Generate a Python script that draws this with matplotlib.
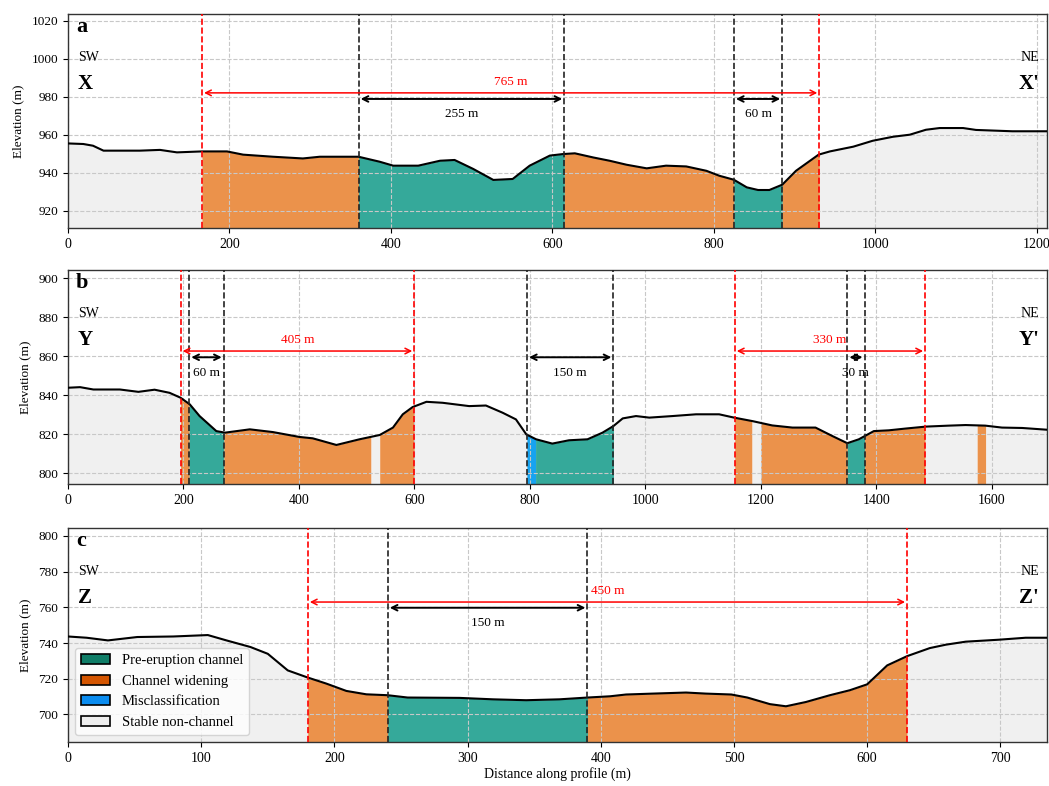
import numpy as np
import matplotlib
matplotlib.use("Agg")
import matplotlib.pyplot as plt
from matplotlib.patches import Patch
from matplotlib.ticker import MultipleLocator

plt.rcParams['font.family'] = ['Liberation Serif', 'DejaVu Serif']

# ---- panel a (X - X') ----
a_dist = [0, 19, 31, 44, 89, 114, 135, 166, 197, 217, 254, 291, 312, 360, 386, 403,
          434, 461, 479, 502, 527, 551, 572, 597, 613, 628, 651, 671, 692, 717, 741,
          766, 791, 807, 825, 841, 855, 869, 885, 902, 930, 944, 973, 997, 1022, 1043,
          1063, 1080, 1109, 1125, 1170, 1213]
a_elev = [955.4, 955.1, 954.2, 951.6, 951.6, 952.0, 950.7, 951.2, 951.2, 949.5, 948.4,
          947.5, 948.4, 948.4, 945.8, 943.7, 943.7, 946.3, 946.7, 942.0, 936.2, 936.7,
          943.7, 949.0, 949.8, 950.2, 948.0, 946.3, 944.2, 942.3, 943.7, 943.3, 941.0,
          938.4, 936.3, 932.3, 930.9, 930.9, 933.7, 941.0, 949.5, 951.2, 953.7, 956.8,
          958.9, 960.0, 962.6, 963.5, 963.5, 962.5, 961.8, 961.8]
a_bounds = [0, 166, 360, 615, 825, 885, 931, 1213]
a_classes = ['stable', 'widen', 'pre', 'widen', 'pre', 'widen', 'stable']
a_red = [166, 931]
a_black = [360, 615, 825, 885]
a_spans = [(166, 931, '765 m', 'red'), (360, 615, '255 m', 'black'), (825, 885, '60 m', 'black')]

# ---- panel b (Y - Y') ----
b_dist = [0, 21, 44, 90, 122, 150, 176, 195, 211, 228, 257, 272, 315, 355, 401, 424,
          465, 505, 540, 563, 580, 597, 621, 649, 695, 724, 753, 776, 794, 811, 839,
          868, 900, 926, 945, 961, 984, 1007, 1047, 1088, 1128, 1154, 1186, 1220, 1255,
          1295, 1324, 1350, 1370, 1396, 1422, 1451, 1486, 1526, 1555, 1589, 1618, 1653,
          1696]
b_elev = [843.9, 844.2, 843.0, 843.0, 841.8, 842.9, 841.3, 838.8, 835.4, 829.4, 821.7,
          820.9, 822.6, 821.2, 818.7, 818.0, 814.6, 817.5, 819.7, 823.5, 830.3, 834.0,
          836.7, 836.2, 834.5, 834.8, 831.1, 827.7, 820.0, 817.5, 815.3, 817.0, 817.5,
          820.9, 824.3, 828.2, 829.4, 828.6, 829.4, 830.3, 830.3, 828.6, 826.8, 824.6,
          823.5, 823.5, 819.2, 815.5, 817.5, 821.7, 822.1, 823.0, 824.0, 824.5, 824.8,
          824.5, 823.5, 823.3, 822.4]
b_bounds = [0, 195, 210, 270, 525, 540, 600, 795, 810, 945, 1155, 1185, 1200, 1350,
            1380, 1485, 1575, 1590, 1696]
b_classes = ['stable', 'widen', 'pre', 'widen', 'stable', 'widen', 'stable', 'mis', 'pre',
             'stable', 'widen', 'stable', 'widen', 'pre', 'widen', 'stable', 'widen', 'stable']
b_red = [195, 600, 1155, 1485]
b_black = [210, 270, 795, 945, 1350, 1380]
b_spans = [(195, 600, '405 m', 'red'), (210, 270, '60 m', 'black'),
           (795, 945, '150 m', 'black'), (1155, 1485, '330 m', 'red'),
           (1350, 1380, '30 m', 'black')]

# ---- panel c (Z - Z') ----
c_dist = [0, 14, 30, 52, 79, 105, 119, 137, 150, 165, 180, 194, 209, 224, 240, 255,
          294, 319, 344, 369, 390, 407, 419, 439, 464, 479, 498, 510, 527, 539, 554,
          572, 587, 600, 615, 630, 647, 659, 674, 699, 719, 735]
c_elev = [743.7, 743.0, 741.5, 743.4, 743.7, 744.5, 741.5, 737.8, 734.0, 724.7, 720.7,
          717.3, 713.2, 711.3, 710.8, 709.5, 709.3, 708.5, 708.0, 708.5, 709.5, 710.2,
          711.2, 711.7, 712.3, 711.7, 711.2, 709.5, 705.8, 704.6, 707.0, 710.8, 713.6,
          716.9, 727.5, 732.7, 737.2, 739.1, 740.8, 741.9, 743.0, 743.0]
c_bounds = [0, 180, 240, 390, 630, 735]
c_classes = ['stable', 'widen', 'pre', 'widen', 'stable']
c_red = [180, 630]
c_black = [240, 390]
c_spans = [(180, 630, '450 m', 'red'), (240, 390, '150 m', 'black')]

fill_colors = {'pre': '#35a99a', 'widen': '#eb924b', 'mis': '#17a3f0', 'stable': '#f0f0f0'}
legend_colors = {'pre': '#0f7d67', 'widen': '#d45500', 'mis': '#0a8cf0', 'stable': '#eeeeee'}
legend_labels = {'pre': 'Pre-eruption channel', 'widen': 'Channel widening',
                 'mis': 'Misclassification', 'stable': 'Stable non-channel'}


def draw_panel(ax, dist, elev, bounds, classes, red, black, spans, letter, start, end):
    dist = np.array(dist, dtype=float)
    elev = np.array(elev, dtype=float)
    top = elev.max()
    ybot = elev.min() - 20
    ax.set_ylim(ybot, top + 60)
    ax.set_xlim(dist[0], dist[-1])

    for s, e, cls in zip(bounds[:-1], bounds[1:], classes):
        inside = dist[(dist > s) & (dist < e)]
        xs = np.concatenate([[s], inside, [e]])
        ys = np.interp(xs, dist, elev)
        ax.fill_between(xs, ys, ybot, color=fill_colors[cls], lw=0, zorder=1)

    ax.plot(dist, elev, color='black', lw=1.5, zorder=3)

    for x in red:
        ax.axvline(x, color='red', ls='--', lw=1.2, zorder=4)
    for x in black:
        ax.axvline(x, color='#222222', ls='--', lw=1.2, zorder=4)

    for x1, x2, label, col in spans:
        if col == 'red':
            yy = top + 18.5
            off = 8
        else:
            yy = top + 15.3
            off = -11
        ax.annotate('', xy=(x1, yy), xytext=(x2, yy),
                    arrowprops=dict(arrowstyle='<->', color=col,
                                    lw=1.1 if col == 'red' else 1.4,
                                    mutation_scale=10, shrinkA=1.5, shrinkB=1.5),
                    zorder=5)
        ax.annotate(label, xy=((x1 + x2) / 2, yy), xytext=(0, off),
                    textcoords='offset points', ha='center', va='center',
                    color=col, fontsize=9.5, zorder=6)

    ax.text(0.008, 0.94, letter, transform=ax.transAxes, fontsize=16,
            fontweight='bold', va='center', ha='left')
    ax.text(0.01, 0.795, 'SW', transform=ax.transAxes, fontsize=10, va='center', ha='left')
    ax.text(0.01, 0.675, start, transform=ax.transAxes, fontsize=15,
            fontweight='bold', va='center', ha='left')
    ax.text(0.992, 0.795, 'NE', transform=ax.transAxes, fontsize=10, va='center', ha='right')
    ax.text(0.992, 0.675, end, transform=ax.transAxes, fontsize=15,
            fontweight='bold', va='center', ha='right')

    ax.yaxis.set_major_locator(MultipleLocator(20))
    ax.grid(True, color='#c8c8c8', ls='--', lw=0.8)
    ax.set_ylabel('Elevation (m)', fontsize=9.5, labelpad=5)
    ax.tick_params(axis='x', labelsize=10)
    ax.tick_params(axis='y', labelsize=9.5)
    for sp in ax.spines.values():
        sp.set_color('#333333')
        sp.set_linewidth(1.0)


fig = plt.figure(figsize=(10.49, 7.86), dpi=100)
left, width, height = 0.0648, 0.9333, 0.2723
ax_a = fig.add_axes([left, 0.7099, width, height])
ax_b = fig.add_axes([left, 0.3842, width, height])
ax_c = fig.add_axes([left, 0.0560, width, height])

draw_panel(ax_a, a_dist, a_elev, a_bounds, a_classes, a_red, a_black, a_spans, 'a', 'X', "X'")
draw_panel(ax_b, b_dist, b_elev, b_bounds, b_classes, b_red, b_black, b_spans, 'b', 'Y', "Y'")
draw_panel(ax_c, c_dist, c_elev, c_bounds, c_classes, c_red, c_black, c_spans, 'c', 'Z', "Z'")

ax_c.xaxis.set_major_locator(MultipleLocator(100))
ax_c.set_xlabel('Distance along profile (m)', fontsize=10, labelpad=2)

handles = [Patch(facecolor=legend_colors[k], edgecolor='black', lw=1.2, label=legend_labels[k])
           for k in ['pre', 'widen', 'mis', 'stable']]
ax_c.legend(handles=handles, loc='lower left', fontsize=10.5, framealpha=0.8)

fig.savefig('out.png', dpi=100)
